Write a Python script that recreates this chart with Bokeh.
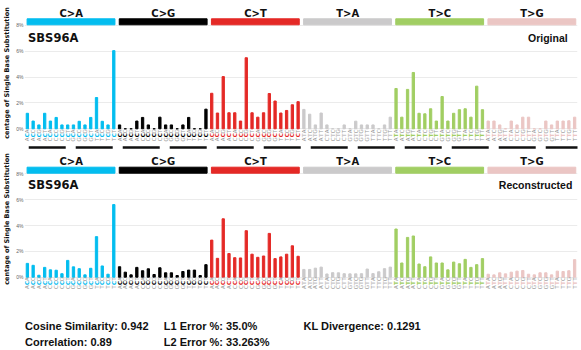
import math
from bokeh.plotting import figure
from bokeh.models import Range1d, FixedTicker, PrintfTickFormatter, Arrow
from bokeh.layouts import column
from bokeh.embed import file_html
from bokeh.resources import INLINE
from bokeh.core.properties import value

# ---------------- data ----------------
mut_types = ["C>A", "C>G", "C>T", "T>A", "T>C", "T>G"]
mut_colors = ["#03BDEF", "#010101", "#E42926", "#CBCACB", "#A1CE63", "#EBC6C4"]
bases = ["A", "C", "G", "T"]

orig_CA = [1.2, 0.6, 0.3, 1.2, 0.6, 0.88, 0.3, 0.3, 0.3, 0.58, 0.3, 0.88, 2.42, 0.58, 0.3, 6.05]
orig_CG = [0.3, 0.0, 0.0, 0.6, 0.88, 0.3, 0.0, 0.9, 0.3, 0.3, 0.0, 0.3, 0.88, 0.0, 0.0, 1.52]
orig_CT = [2.75, 1.22, 4.04, 1.24, 1.24, 0.6, 5.5, 1.24, 0.9, 1.24, 2.73, 2.15, 1.22, 1.42, 1.86, 2.1]
orig_TA = [1.5, 1.13, 0.3, 1.22, 0.3, 0.0, 0.0, 0.3, 0.0, 0.59, 0.3, 0.3, 0.3, 0.0, 0.3, 0.9]
orig_TC = [3.12, 0.9, 3.05, 4.36, 1.2, 1.16, 1.55, 0.6, 2.5, 0.6, 1.2, 1.48, 1.55, 0.9, 3.3, 1.48]
orig_TG = [0.6, 0.6, 0.3, 0.0, 0.6, 0.3, 0.9, 0.9, 0.0, 0.0, 0.6, 0.3, 0.6, 0.6, 0.62, 0.9]

rec_CA = [1.07, 0.92, 0.15, 0.76, 0.57, 0.54, 0.27, 1.3, 0.8, 0.66, 0.18, 0.69, 3.14, 0.87, 0.23, 5.62]
rec_CG = [0.81, 0.39, 0.18, 0.76, 0.5, 0.65, 0.21, 0.73, 0.34, 0.34, 0.13, 0.44, 0.55, 0.55, 0.13, 0.97]
rec_CT = [2.87, 1.46, 4.52, 1.83, 1.51, 1.49, 3.6, 1.78, 1.54, 1.64, 3.39, 1.44, 1.57, 1.78, 2.43, 1.62]
rec_TA = [0.6, 0.6, 0.7, 0.78, 0.25, 0.35, 0.34, 0.27, 0.26, 0.26, 0.27, 0.63, 0.28, 0.42, 0.66, 0.78]
rec_TC = [3.73, 1.1, 3.08, 3.19, 1.02, 0.81, 1.57, 1.1, 1.1, 0.57, 1.17, 1.04, 1.38, 0.76, 0.97, 1.44]
rec_TG = [0.23, 0.18, 0.34, 0.26, 0.39, 0.47, 0.52, 0.23, 0.18, 0.34, 0.34, 0.18, 0.47, 0.44, 0.5, 1.36]

y_ticks = [0, 2, 4, 6, 8]
signature_name = "SBS96A"
stats_col1 = ["Cosine Similarity: 0.942", "Correlation: 0.89"]
stats_col2 = ["L1 Error %: 35.0%", "L2 Error %: 33.263%"]
stats_col3 = ["KL Divergence: 0.1291"]
y_label = "centage of Single Base Substitution"

orig_values = orig_CA + orig_CG + orig_CT + orig_TA + orig_TC + orig_TG
rec_values = rec_CA + rec_CG + rec_CT + rec_TA + rec_TC + rec_TG

contexts = []
bar_colors = []
for mt, col in zip(mut_types, mut_colors):
    for b5 in bases:
        for b3 in bases:
            contexts.append(b5 + mt[0] + b3)
            bar_colors.append(col)
idx = list(range(len(contexts)))

W = 581
LEFT, RIGHT = 21, 4
PX = 12.92  # pixels per 1 %
XPX = (W - LEFT - RIGHT) / 96.0  # pixels per category slot
FONT = value("DejaVu Sans")
AFONT = value("Liberation Sans")


def make_panel(values, top, height, zero_px, note, note_x, lab_px, catbar_px, title_px, xlab_px,
               dash_px=None):
    ymin = -(top + height - zero_px) / PX
    ymax = ymin + height / PX

    def yd(py):
        return ymin + (top + height - py) / PX

    p = figure(width=W, height=height, x_range=Range1d(-0.5, 95.5), y_range=Range1d(ymin, ymax),
               output_backend="svg", toolbar_location=None, x_axis_location=None,
               min_border_left=LEFT, min_border_right=RIGHT, min_border_top=0, min_border_bottom=0)
    p.outline_line_color = None
    p.xgrid.visible = False
    p.ygrid.ticker = FixedTicker(ticks=y_ticks)
    p.ygrid.grid_line_color = "#EBEBEB"
    ax = p.yaxis[0]
    ax.ticker = FixedTicker(ticks=y_ticks)
    ax.formatter = PrintfTickFormatter(format="%d%%")
    ax.axis_line_color = None
    ax.major_tick_line_color = None
    ax.minor_tick_line_color = None
    ax.major_tick_out = 0
    ax.major_label_text_font_size = "5px"
    ax.major_label_text_color = "#666666"
    ax.major_label_standoff = 1
    ax.axis_label = y_label
    ax.axis_label_text_font = "DejaVu Sans"
    ax.axis_label_text_font_size = "6.5px"
    ax.axis_label_text_font_style = "bold"
    ax.axis_label_text_color = "#111111"
    ax.axis_label_standoff = 2

    # bars
    p.vbar(x=idx, top=values, width=0.4, color=bar_colors)

    # category bars + labels
    lefts = [16 * k - 0.05 for k in range(6)]
    rights = [16 * k + 15.2 for k in range(6)]
    p.quad(left=lefts, right=rights, bottom=yd(catbar_px + 6), top=yd(catbar_px), color=mut_colors)
    p.text(x=[16 * k + 7.6 for k in range(6)], y=yd(lab_px), text=mut_types, text_font=FONT,
           text_font_style="bold", text_font_size="10px", text_align="center",
           text_baseline="middle", text_color="#111111")

    # signature name and panel note
    p.text(x=[0.12], y=[yd(title_px)], text=[signature_name], text_font=FONT, text_font_style="bold",
           text_font_size="11.5px", text_align="left", text_baseline="middle", text_color="#111111")
    p.text(x=[note_x], y=[yd(title_px)], text=[note], text_font=AFONT, text_font_style="bold",
           text_font_size="10.5px", text_align="right", text_baseline="middle", text_color="#111111")

    # trinucleotide labels (rotated, middle base coloured)
    xs, ys, ts, cs = [], [], [], []
    for i, c in enumerate(contexts):
        xs += [i, i]
        ys += [yd(xlab_px + 4), yd(xlab_px - 4)]
        ts += [c[0], c[2]]
        cs += ["#9A9A9A", "#9A9A9A"]
    p.text(x=xs, y=ys, text=ts, text_color=cs, angle=math.pi / 2, text_font=FONT,
           text_font_size="5.5px", text_align="center", text_baseline="middle")
    p.text(x=idx, y=[yd(xlab_px)] * len(idx), text=[c[1] for c in contexts], text_color=bar_colors,
           angle=math.pi / 2, text_font=FONT, text_font_style="bold",
           text_font_size="5.5px", text_align="center", text_baseline="middle")

    if dash_px is not None:
        x0 = -0.5 - LEFT / XPX - 22 / XPX
        x1 = 95.5 + RIGHT / XPX + 1
        p.add_layout(Arrow(end=None, start=None, x_start=x0, y_start=yd(dash_px), x_end=x1,
                           y_end=yd(dash_px), line_width=2.5, line_color="#111111",
                           line_dash="37 10"))
    return p


top_fig = make_panel(orig_values, 0, 145, 128.3, "Original", 93.8, 12.5, 18.3, 37.5, 134.8)
bot_fig = make_panel(rec_values, 145, 147, 276.7, "Reconstructed", 94.6, 160.7, 166.7, 184.5, 282.5,
                     dash_px=147)

stats = figure(width=W, height=58, x_range=Range1d(LEFT, W - RIGHT), y_range=Range1d(58, 0),
               output_backend="svg", toolbar_location=None, x_axis_location=None, y_axis_location=None,
               min_border_left=LEFT, min_border_right=RIGHT, min_border_top=0, min_border_bottom=0)
stats.outline_line_color = None
stats.grid.visible = False
row_y = [33.5, 49.5]
for xpos, texts in [(21.5, stats_col1), (161, stats_col2), (301.5, stats_col3)]:
    stats.text(x=[xpos] * len(texts), y=row_y[:len(texts)], text=texts, text_font=AFONT,
               text_font_style="bold", text_font_size="11px", text_align="left",
               text_baseline="middle", text_color="#111111")

layout = column(top_fig, bot_fig, stats, spacing=0)

with open("out.html", "w") as f:
    f.write(file_html(layout, INLINE))
